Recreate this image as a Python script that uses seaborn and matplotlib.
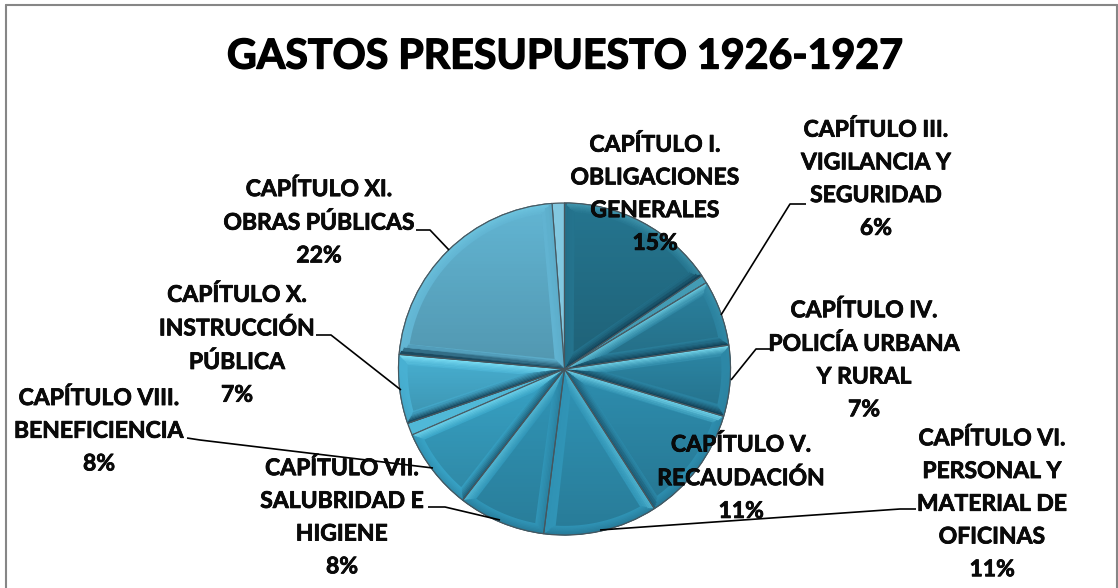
import numpy as np
import matplotlib
matplotlib.use("Agg")
import matplotlib.pyplot as plt
import matplotlib.patheffects as pe
from matplotlib.collections import PolyCollection
from matplotlib.patches import Wedge
from matplotlib.transforms import Affine2D
import seaborn as sns

title = "GASTOS PRESUPUESTO 1926-1927"
values = [15.5, 0.8, 6.4, 6.9, 11.3, 11.1, 8.5, 8.0, 1.2, 6.7, 22.4, 1.2]
colors = ["#25758f", "#2a7f9b", "#2b829f", "#2c87a6", "#2e8eaf", "#3094b6",
          "#3196b8", "#38a3c6", "#3ca6c9", "#48b0d2", "#62b5d3", "#7fbcd6"]
labels = ["CAPÍTULO I.\nOBLIGACIONES\nGENERALES\n15%",
          "CAPÍTULO III.\nVIGILANCIA Y\nSEGURIDAD\n6%",
          "CAPÍTULO IV.\nPOLICÍA URBANA\nY RURAL\n7%",
          "CAPÍTULO V.\nRECAUDACIÓN\n11%",
          "CAPÍTULO VI.\nPERSONAL Y\nMATERIAL DE\nOFICINAS\n11%",
          "CAPÍTULO VII.\nSALUBRIDAD E\nHIGIENE\n8%",
          "CAPÍTULO VIII.\nBENEFICIENCIA\n8%",
          "CAPÍTULO X.\nINSTRUCCIÓN\nPÚBLICA\n7%",
          "CAPÍTULO XI.\nOBRAS PÚBLICAS\n22%"]
label_xy = [(655, 194), (876, 179), (864, 360), (741, 478), (992, 504),
            (342, 517.5), (99, 431), (237, 345), (319, 222.5)]
leaders = [[(721, 315), (790, 204), (806, 204)],
           [(731, 380), (756, 349), (772, 349)],
           [(600, 530), (900, 509), (916, 509)],
           [(500, 520), (445, 507), (428, 507)],
           [(433, 468), (200, 440), (187, 438)],
           [(401, 390), (331, 335), (316, 335)],
           [(449, 250), (430, 230), (416, 230)]]

sns.set_theme(style="white")
plt.rcParams["font.family"] = ["Lato", "DejaVu Sans"]
W, H = 1118, 588
fig = plt.figure(figsize=(W / 100, H / 100), dpi=100)
ax = fig.add_axes([0, 0, 1, 1])
ax.axis("off")
cx, cy, R = 564.5, 369, 166

wedges, _ = ax.pie(values, colors=colors, startangle=90, counterclock=False,
                   radius=1, wedgeprops=dict(linewidth=0))
ax.set_aspect("auto")
base = Affine2D().scale(R, -R).translate(cx, cy) + ax.transData
BEVEL = 0.055
LEVELS = 7


def shaded(rgb, ny, f):
    k = np.clip(ny, -1, 1) * f
    target = np.array([0.55, 0.93, 1.0]) if k > 0 else np.array([0.06, 0.22, 0.30])
    return rgb + (target - rgb) * abs(k)


def inset_geom(t1, t2, d):
    half = np.deg2rad((t2 - t1) / 2)
    mid = np.deg2rad((t1 + t2) / 2)
    off = d / np.sin(half)
    apex = np.array([off * np.cos(mid), off * np.sin(mid)])
    a = np.deg2rad(np.linspace(t1, t2, 61))
    arc = np.c_[(1 - d) * np.cos(a), (1 - d) * np.sin(a)]
    a1, a2 = np.deg2rad(t1), np.deg2rad(t2)
    dir1, dir2 = np.array([np.cos(a1), np.sin(a1)]), np.array([np.cos(a2), np.sin(a2)])
    keep = (np.cross(dir1, arc - apex) >= 0) & (np.cross(arc - apex, dir2) >= 0)
    return apex, arc[keep]


for w, c in zip(wedges, colors):
    t1, t2 = w.theta1, w.theta2
    rgb = np.array(matplotlib.colors.to_rgb(c))
    w.set_transform(base)
    w.set_edgecolor("#46565e"); w.set_linewidth(0.9); w.set_zorder(2)
    if t2 - t1 < 6:
        w.set_facecolor(shaded(rgb, 0.25, 1.0))
        continue
    a1, a2 = np.deg2rad(t1), np.deg2rad(t2)
    n1y = -np.cos(a1)
    n2y = np.cos(a2)
    polys, cols = [], []
    ds = np.linspace(0, BEVEL, LEVELS + 1)
    for k in range(LEVELS):
        d0, d1 = ds[k], ds[k + 1]
        f = 0.85 * (1 - k / LEVELS) ** 1.2
        ap0, arc0 = inset_geom(t1, t2, d0)
        ap1, arc1 = inset_geom(t1, t2, d1)
        polys.append(np.array([ap0, arc0[0], arc1[0], ap1]))
        cols.append(shaded(rgb, n1y - 0.15, f))
        polys.append(np.array([ap0, arc0[-1], arc1[-1], ap1]))
        cols.append(shaded(rgb, n2y - 0.15, f))
        i0 = np.linspace(0, len(arc0) - 1, len(arc1)).round().astype(int)
        for j in range(len(arc1) - 1):
            polys.append(np.array([arc0[i0[j]], arc0[i0[j + 1]], arc1[j + 1], arc1[j]]))
            my = (arc1[j][1] + arc1[j + 1][1]) / 2
            cols.append(shaded(rgb, my * 0.6, f * 0.6))
    ax.add_collection(PolyCollection(polys, facecolors=cols, edgecolors=cols,
                                     linewidths=0.3, transform=base, zorder=3))
    ap, arc = inset_geom(t1, t2, BEVEL)
    inner = np.vstack([ap, arc])
    ax.fill(inner[:, 0], inner[:, 1], color=rgb, lw=0, transform=base, zorder=4)
    ang = np.deg2rad(np.linspace(t1, t2, 60))
    ys = np.r_[0, np.sin(ang)]
    top, bot = cy - R * ys.max(), cy - R * ys.min()
    grad = np.linspace(0, 0.17, 256).reshape(-1, 1, 1)
    img = ax.imshow(np.dstack([np.zeros((256, 1, 3)), grad]),
                    extent=(cx - R, cx + R, bot, top), aspect="auto", zorder=5)
    img.set_clip_path(plt.Polygon(inner, transform=base))
    ax.add_patch(Wedge((0, 0), 1, t1, t2, fill=False, edgecolor="#46565e", lw=0.8,
                       transform=base, zorder=5.5))
ax.set_xlim(0, W); ax.set_ylim(H, 0)

for pts in leaders:
    xs, ys = zip(*pts)
    ax.plot(xs, ys, color="black", lw=1.2, zorder=6, solid_capstyle="butt")
stroke = [pe.withStroke(linewidth=0.55, foreground="black")]
for s, (x, y) in zip(labels, label_xy):
    ax.text(x, y, s, ha="center", va="center", fontsize=16.5, fontweight="bold",
            color="#0a0a0a", linespacing=1.69, zorder=7, path_effects=stroke)
ax.text(565, 57, title, ha="center", va="center", fontsize=29.6, fontweight="bold",
        color="black", zorder=7, path_effects=[pe.withStroke(linewidth=1.0, foreground="black")])
for xs, ys in (((6, 6), (5, 588)), ((6, 1117), (5, 5)), ((1117, 1117), (5, 588))):
    ax.plot(xs, ys, color="#868686", lw=1.5, zorder=8, clip_on=False)
fig.savefig("out.png", dpi=100, facecolor="white")
